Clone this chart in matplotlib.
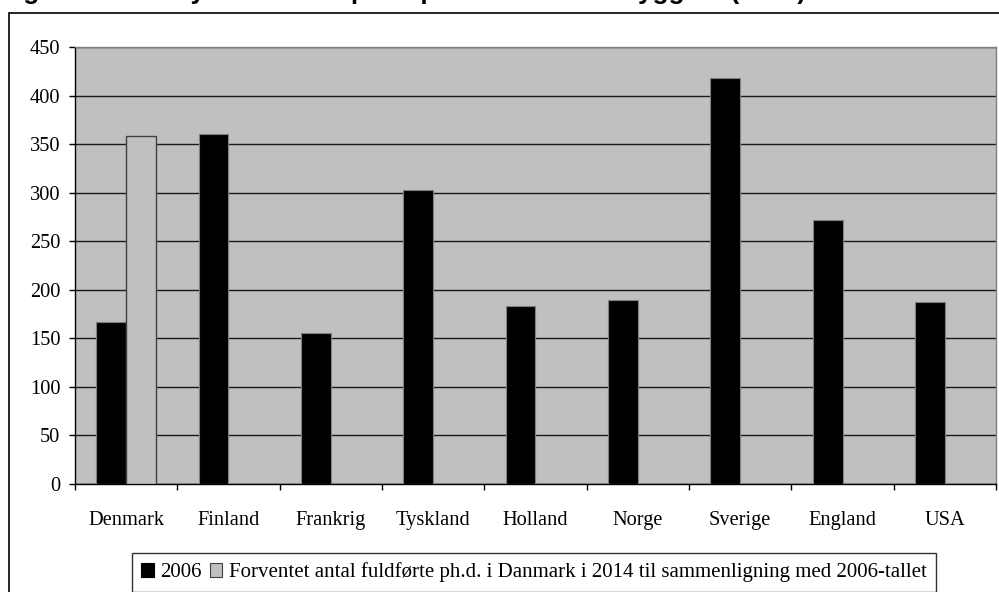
import matplotlib
matplotlib.use("Agg")
import matplotlib.pyplot as plt
import numpy as np
from matplotlib.patches import Rectangle, Patch

categories = ["Denmark", "Finland", "Frankrig", "Tyskland", "Holland", "Norge", "Sverige", "England", "USA"]
values_2006 = [167, 360, 155, 303, 183, 189, 418, 272, 187]
values_2014 = [358, 0, 0, 0, 0, 0, 0, 0, 0]
series_names = ["2006", "Forventet antal fuldførte ph.d. i Danmark i 2014 til sammenligning med 2006-tallet"]
title = "Figur 3: Antal nyuddannede ph.d. pr. 1.000.000 indbyggere (2006)"
yticks = [0, 50, 100, 150, 200, 250, 300, 350, 400, 450]

W, H = 999, 592
fig = plt.figure(figsize=(W / 100, H / 100), dpi=100)
fig.patch.set_facecolor("white")

serif = ["Liberation Serif", "DejaVu Serif"]

# outer frame
fig.patches.append(Rectangle((9 / W, -0.2), 1.2, 1 - 12.7 / H + 0.2, transform=fig.transFigure,
                             fill=False, edgecolor="#000000", lw=1.2, clip_on=False))

# title (cut off at the top edge, as in the reference)
fig.text(0.0, 1 + 1.5 / H, title, ha="left", va="baseline", fontsize=18.7, fontweight="bold",
         family=["Liberation Sans", "DejaVu Sans"])

ax = fig.add_axes([75 / W, (H - 484) / H, (996 - 75) / W, (484 - 47) / H])
ax.set_facecolor("#C0C0C0")

x = np.arange(len(categories))
bw = 0.293
ax.bar(x - bw / 2, values_2006, width=bw, color="#000000", edgecolor="#808080", lw=0.8, zorder=3)
ax.bar(x[:1] + bw / 2, values_2014[:1], width=bw, color="#C0C0C0", edgecolor="#404040", lw=1.0, zorder=3)

ax.set_xlim(-0.5, len(categories) - 0.5)
ax.set_ylim(0, 450)
ax.set_yticks(yticks)
ax.set_yticklabels([str(v) for v in yticks], family=serif, fontsize=14.7)
ax.yaxis.grid(True, color="#1a1a1a", lw=1.0)
ax.set_axisbelow(True)

ax.set_xticks(x)
ax.set_xticklabels(categories, family=serif, fontsize=14.7)
ax.set_xticks(np.arange(len(categories) + 1) - 0.5, minor=True)
ax.tick_params(axis="x", which="major", length=0, pad=19.5)
ax.tick_params(axis="x", which="minor", length=4.5, width=1, color="#000000", direction="out")
ax.tick_params(axis="y", length=4.5, width=1, color="#000000", direction="out", pad=6)

for s in ["top", "right"]:
    ax.spines[s].set_color("#808080")
    ax.spines[s].set_linewidth(1)
for s in ["left", "bottom"]:
    ax.spines[s].set_color("#000000")
    ax.spines[s].set_linewidth(1)

handles = [Patch(facecolor="#000000", edgecolor="#000000", lw=0.8),
           Patch(facecolor="#C0C0C0", edgecolor="#404040", lw=0.8)]
leg = fig.legend(handles, series_names, loc="upper center", bbox_to_anchor=(534 / W, 1 - 553 / H),
                 ncol=2, frameon=True, fancybox=False, prop={"family": serif, "size": 15},
                 handlelength=0.6, handleheight=0.6, handletextpad=0.3, columnspacing=0.4,
                 borderpad=0.45, borderaxespad=0)
leg.get_frame().set_edgecolor("#000000")
leg.get_frame().set_linewidth(1)

fig.savefig("out.png", dpi=100)
